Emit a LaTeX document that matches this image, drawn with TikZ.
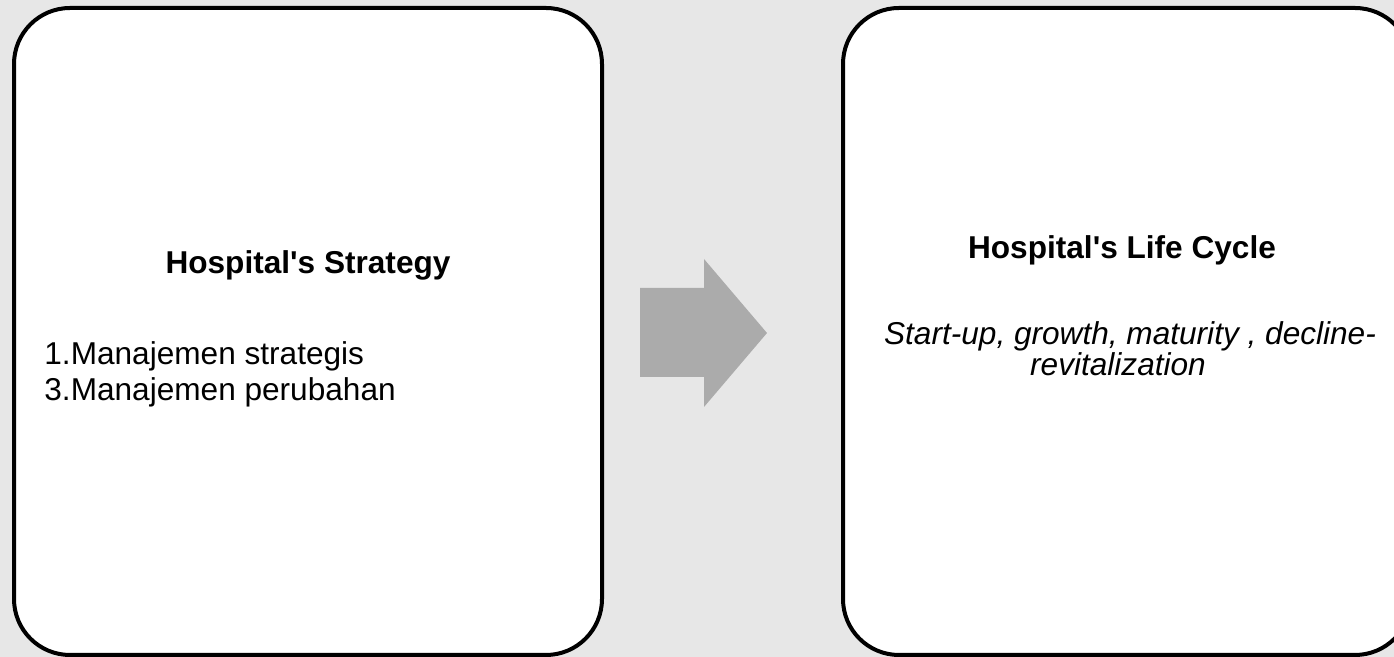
\documentclass[tikz,border=0pt]{standalone}
\usepackage{fontspec}
\setmainfont{Liberation Sans}
\usetikzlibrary{positioning}
\definecolor{bggray}{RGB}{231,231,231}
\definecolor{arrowgray}{RGB}{171,171,171}
\tikzset{
    panel/.style={draw=black, line width=2pt, fill=white, rounded corners=28pt},
    heading/.style={font=\fontsize{15.8}{18}\selectfont\bfseries, anchor=base, inner sep=0pt},
    bodytext/.style={font=\fontsize{15.8}{18}\selectfont, inner sep=0pt}
}
\begin{document}
\begin{tikzpicture}[x=0.5pt,y=0.5pt]
    % Background
    \fill[bggray] (0,0) rectangle (1394,657);
    \clip (0,0) rectangle (1394,657);

    % Left panel
    \draw[panel] (14,2) rectangle (602,649);
    \node[heading] (strategytitle) at (308,383) {Hospital\textquotesingle s Strategy};
    \node[bodytext, anchor=base west] (itemone) at (44,292) {1.Manajemen strategis};
    \node[bodytext, anchor=base west] (itemthree) at (44,256) {3.Manajemen perubahan};

    % Block arrow
    \fill[arrowgray] (640,280) -- (640,369) -- (704,369) -- (704,398)
        -- (767,324) -- (704,250) -- (704,280) -- cycle;

    % Right panel
    \draw[panel] (843,2) rectangle (1411,649);
    \node[heading] (cycletitle) at (1122,398) {Hospital\textquotesingle s Life Cycle};
    \node[bodytext, anchor=base, font=\fontsize{15.8}{18}\selectfont\itshape] (stagesone) at (1130,312) {Start-up, growth, maturity , decline-};
    \node[bodytext, anchor=base, font=\fontsize{15.8}{18}\selectfont\itshape] (stagestwo) at (1118,281) {revitalization};
\end{tikzpicture}
\end{document}
